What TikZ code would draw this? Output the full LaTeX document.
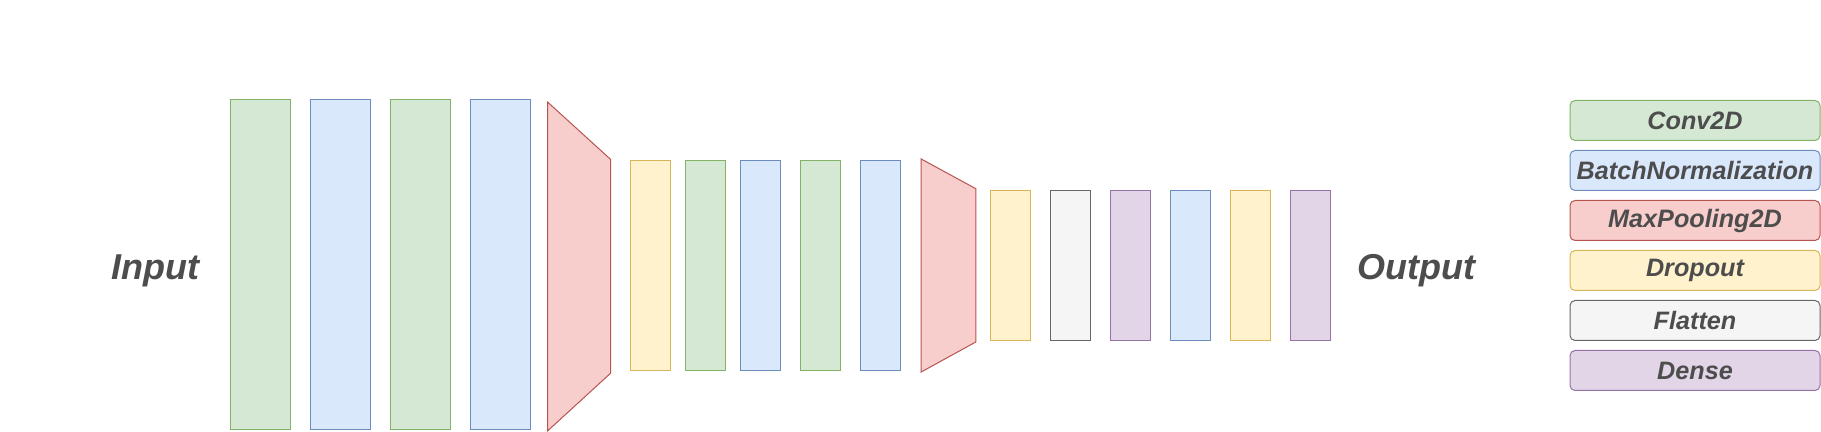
\documentclass[tikz,border=0pt]{standalone}
\usepackage{fontspec}
\setmainfont{Liberation Sans}
\definecolor{convfill}{HTML}{D5E8D4}
\definecolor{convline}{HTML}{82B366}
\definecolor{bnfill}{HTML}{DAE8FC}
\definecolor{bnline}{HTML}{6C8EBF}
\definecolor{poolfill}{HTML}{F8CECC}
\definecolor{poolline}{HTML}{B85450}
\definecolor{dropfill}{HTML}{FFF2CC}
\definecolor{dropline}{HTML}{D6B656}
\definecolor{flatfill}{HTML}{F5F5F5}
\definecolor{flatline}{HTML}{666666}
\definecolor{densefill}{HTML}{E1D5E7}
\definecolor{denseline}{HTML}{9673A6}
\definecolor{labeltext}{HTML}{4D4D4D}

\begin{document}
\begin{tikzpicture}[x=0.5pt, y=-0.5pt, line width=0.5pt,
	layer/.style={inner sep=0pt, outer sep=0pt},
	tallbox/.style={layer, minimum width=30pt, minimum height=165pt},
	midbox/.style={layer, minimum width=20pt, minimum height=105pt},
	lowbox/.style={layer, minimum width=20pt, minimum height=75pt},
	convbox/.style={fill=convfill, draw=convline},
	normbox/.style={fill=bnfill, draw=bnline},
	poolbox/.style={fill=poolfill, draw=poolline},
	dropbox/.style={fill=dropfill, draw=dropline},
	flatbox/.style={fill=flatfill, draw=flatline},
	densebox/.style={fill=densefill, draw=denseline},
	keybox/.style={layer, rounded corners=2.5pt, minimum width=125pt, minimum height=20pt, text=labeltext, font=\fontsize{12.6pt}{14pt}\selectfont\bfseries\itshape},
	endtext/.style={text=labeltext, font=\fontsize{18pt}{21pt}\selectfont\bfseries\itshape}]
			\useasboundingbox (0,0) rectangle (1821,432);
			\node[endtext, anchor=base](in) at (155.5,279.3){Input};
			\node[endtext, anchor=base](out) at (1416.7,279.3){Output};
			\node[tallbox, convbox](conv1) at (260.5,265){};
			\node[tallbox, normbox](bn1) at (340.5,265){};
			\node[tallbox, convbox](conv2) at (420.5,265){};
			\node[tallbox, normbox](bn2) at (500.5,265){};
			\draw[poolbox] (547.5,102) -- (610.5,159.3) -- (610.5,373.3) -- (547.5,431) -- cycle;
			\node[midbox, dropbox](drop1) at (650.3,266){};
			\node[midbox, convbox](conv3) at (705.6,266){};
			\node[midbox, normbox](bn3) at (760.5,266){};
			\node[midbox, convbox](conv4) at (820.4,266){};
			\node[midbox, normbox](bn4) at (880.5,266){};
			\draw[poolbox] (921.2,159) -- (975.8,188.7) -- (975.8,342) -- (921.2,372) -- cycle;
			\node[lowbox, dropbox](drop2) at (1010.5,266){};
			\node[lowbox, flatbox](flat1) at (1070.4,266){};
			\node[lowbox, densebox](dense1) at (1130.4,266){};
			\node[lowbox, normbox](bn5) at (1190.5,266){};
			\node[lowbox, dropbox](drop3) at (1250.4,266){};
			\node[lowbox, densebox](dense2) at (1310.3,266){};
			\node[keybox, convbox](lconv) at (1695,120.5){Conv2D};
			\node[keybox, normbox](lbn) at (1695,170.5){BatchNormalization};
			\node[keybox, poolbox](lpool) at (1695,220.5){MaxPooling2D};
			\node[keybox, dropbox](ldrop) at (1695,270.5){Dropout};
			\node[keybox, flatbox](lflat) at (1695,320.5){Flatten};
			\node[keybox, densebox](ldense) at (1695,370.5){Dense};
			\end{tikzpicture}
\end{document}
